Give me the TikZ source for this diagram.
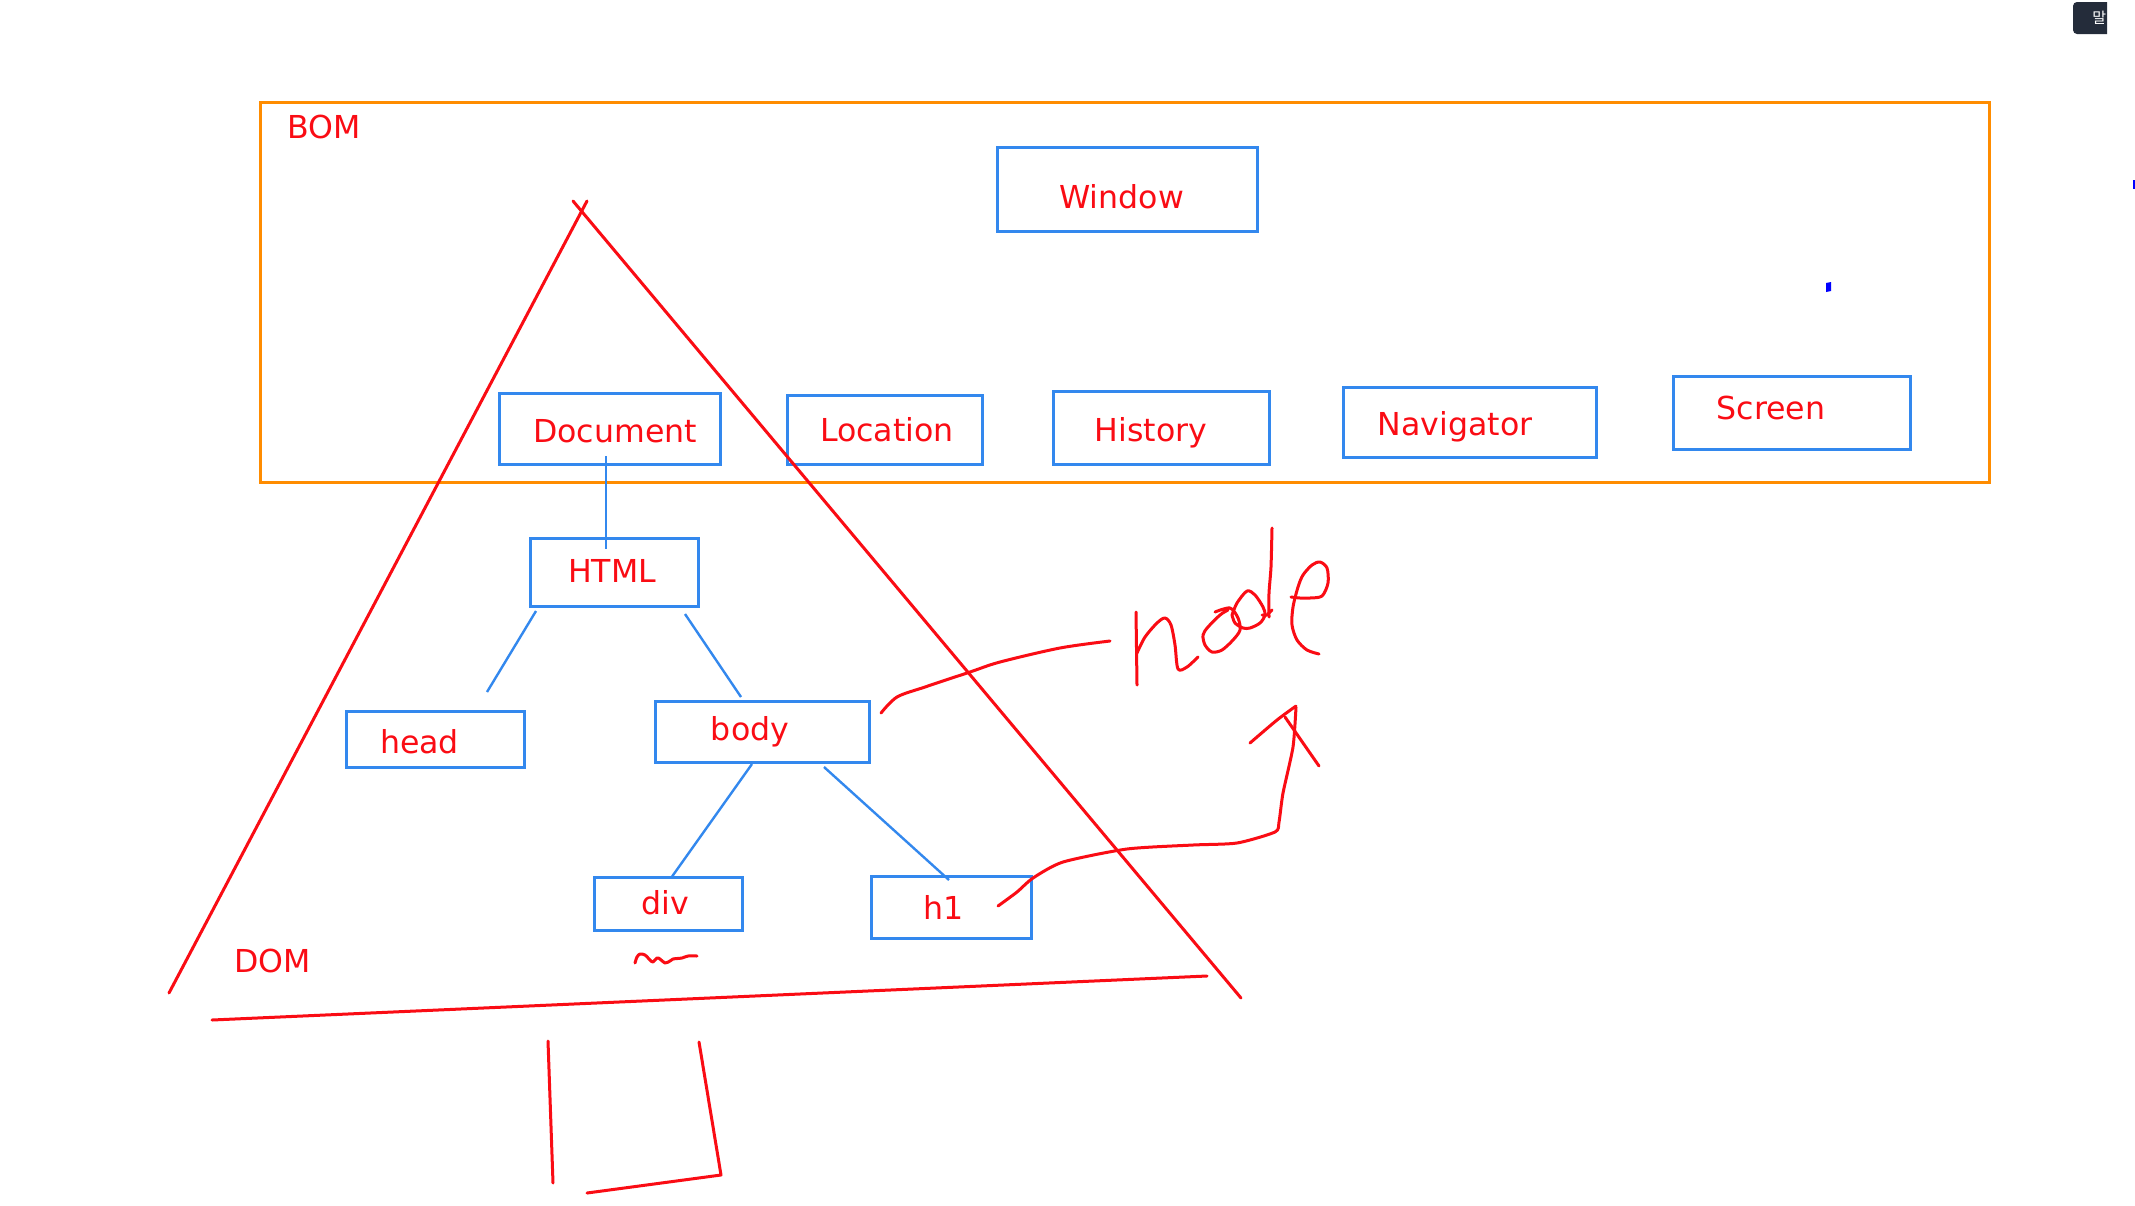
\documentclass[tikz,border=0pt]{standalone}
\usepackage{fontspec}
\setmainfont{DejaVu Sans}
\newfontfamily\krfont{Noto Sans CJK KR}
\definecolor{bblue}{RGB}{51,136,238}
\definecolor{ired}{RGB}{250,12,20}
\definecolor{borange}{RGB}{255,140,0}
\definecolor{tipbg}{RGB}{36,44,58}
\begin{document}
\begin{tikzpicture}[x=0.5pt,y=-0.5pt,
  box/.style 2 args={draw=bblue, line width=1.5pt, rectangle, inner sep=0pt,
     minimum width=#1*0.5pt, minimum height=#2*0.5pt},
  lbl/.style={text=ired, font=\fontsize{15.8pt}{19pt}\selectfont, inner sep=0pt, anchor=base},
  conn/.style={draw=bblue, line width=1.2pt},
  ink/.style={draw=ired, line width=1.5pt, line cap=round, line join=round}]

\useasboundingbox[fill=white] (0,0) rectangle (2135,1205);

% BOM frame
\draw[borange, line width=1.5pt] (260,102) rectangle (1989,482);
\node[lbl, anchor=base west] (bomT) at (287,138) {BOM};

% boxes
\node[box={260}{84}] (win) at (1127,189) {};
\node[lbl] (winT) at (1121.5,208) {Window};
\node[box={221}{71}] (doc) at (609.5,428.5) {};
\node[lbl] (docT) at (615,442) {Document};
\node[box={195}{69}] (loc) at (884.5,429.5) {};
\node[lbl] (locT) at (887,441) {Location};
\node[box={216}{73}] (his) at (1161,427.5) {};
\node[lbl] (hisT) at (1151,441) {History};
\node[box={253}{70}] (nav) at (1469.5,422) {};
\node[lbl] (navT) at (1455,435) {Navigator};
\node[box={237}{73}] (scr) at (1791.5,412.5) {};
\node[lbl] (scrT) at (1771,419) {Screen};
\node[box={168}{68}] (html) at (614,572) {};
\node[lbl] (htmlT) at (612,582) {HTML};
\node[box={178}{56}] (head) at (435,739) {};
\node[lbl] (headT) at (419.5,753) {head};
\node[box={214}{61}] (body) at (762,731.5) {};
\node[lbl] (bodyT) at (750,740) {body};
\node[box={148}{53}] (div) at (668,903.5) {};
\node[lbl] (divT) at (665,914) {div};
\node[box={160}{62}] (hone) at (951,907) {};
\node[lbl] (honeT) at (944,919) {h1};

% blue connectors
\coordinate (dhA) at (606,456); \coordinate (dhB) at (606,549);
\draw[conn] (dhA) -- (dhB);
\coordinate (hhA) at (536,611); \coordinate (hhB) at (487,692);
\draw[conn] (hhA) -- (hhB);
\coordinate (hbA) at (685,614); \coordinate (hbB) at (741,697);
\draw[conn] (hbA) -- (hbB);
\coordinate (bdA) at (752,764); \coordinate (bdB) at (671,878);
\draw[conn] (bdA) -- (bdB);
\coordinate (bhA) at (824,767); \coordinate (bhB) at (949,880);
\draw[conn] (bhA) -- (bhB);

% DOM triangle (red ink)
\coordinate (apL) at (587,201); \coordinate (apR) at (573,201);
\coordinate (legL) at (169,993); \coordinate (legR) at (1241,998);
\coordinate (baseL) at (212,1020); \coordinate (baseR) at (1207,976);
\draw[ink] (apL) -- (legL);
\draw[ink] (apR) -- (legR);
\draw[ink] (baseL) -- (baseR);
\node[lbl, anchor=base west] (domT) at (234,972) {DOM};

% trunk
\coordinate (tr1) at (548,1041); \coordinate (tr2) at (553,1183);
\coordinate (tr3) at (699,1042); \coordinate (tr4) at (721,1175);
\coordinate (tr5) at (587,1193);
\draw[ink] (tr1) -- (tr2);
\draw[ink] (tr3) -- (tr4) -- (tr5);

% squiggle under div
\draw[ink] plot[smooth, tension=0.5] coordinates {(635,963) (637,957) (640,954) (645,955) (650,960) (653,962) (657,958) (660,959) (665,963) (670,961) (673,959) (682,958) (688,956) (697,956)};

% stroke from body towards "node"
\draw[ink] plot[smooth, tension=0.5] coordinates {(881,713) (897,697) (925,687) (970,672) (1000,662) (1060,648) (1110,641)};

% handwritten "node"
\draw[ink] (1136,612) -- (1137,685);
\draw[ink] plot[smooth, tension=0.5] coordinates {(1137,653) (1145,637) (1157,623) (1165,618) (1171,625) (1175,645) (1178,669) (1187,667) (1198,657)};
\draw[ink] plot[smooth, tension=0.5] coordinates {(1215,612) (1230,608) (1238,618) (1240,630) (1233,640) (1222,650) (1212,652) (1205,645) (1203,635) (1208,627) (1220,615) (1228,610)};
\draw[ink] plot[smooth, tension=0.5] coordinates {(1232,615) (1237,603) (1247,591) (1255,595) (1263,607) (1265,615) (1260,623) (1250,628) (1243,628) (1235,623) (1232,615)};
\draw[ink] (1262,615) -- (1267,615) -- (1272,610);
\draw[ink] plot[smooth, tension=0.4] coordinates {(1272,528) (1271,567) (1269,593) (1269,617)};
\draw[ink] plot[smooth, tension=0.5] coordinates {(1291,597) (1300,598) (1310,598) (1322,596) (1328,583) (1327,568) (1320,562) (1312,565) (1303,575) (1298,587) (1293,607) (1292,625) (1297,640) (1307,650) (1319,654)};

% arrow from h1 up
\draw[ink] plot[smooth, tension=0.4] coordinates {(998,906) (1017,892) (1033,878) (1063,862) (1127,849) (1193,845) (1237,843) (1275,832) (1279,822) (1283,793) (1293,747) (1296,707)};
\draw[ink] plot[smooth, tension=0.4] coordinates {(1250,743) (1277,720) (1296,706)};
\draw[ink] plot[smooth, tension=0.4] coordinates {(1285,717) (1303,743) (1319,766)};

% small blue marks
\fill[blue] (1826,283) -- (1831,282) -- (1831,291) -- (1826,292) -- cycle;
\fill[blue] (2133,180) rectangle (2135,189);

% tooltip at top right
\begin{scope}
\clip (2060,0) rectangle (2107,45);
\fill[tipbg, rounded corners=2pt] (2073,2) rectangle (2140,34);
\node[text=white, font=\krfont\fontsize{7.5pt}{9pt}\selectfont, anchor=west, inner sep=0pt] (tip) at (2092,18) {말};
\end{scope}
\end{tikzpicture}
\end{document}
